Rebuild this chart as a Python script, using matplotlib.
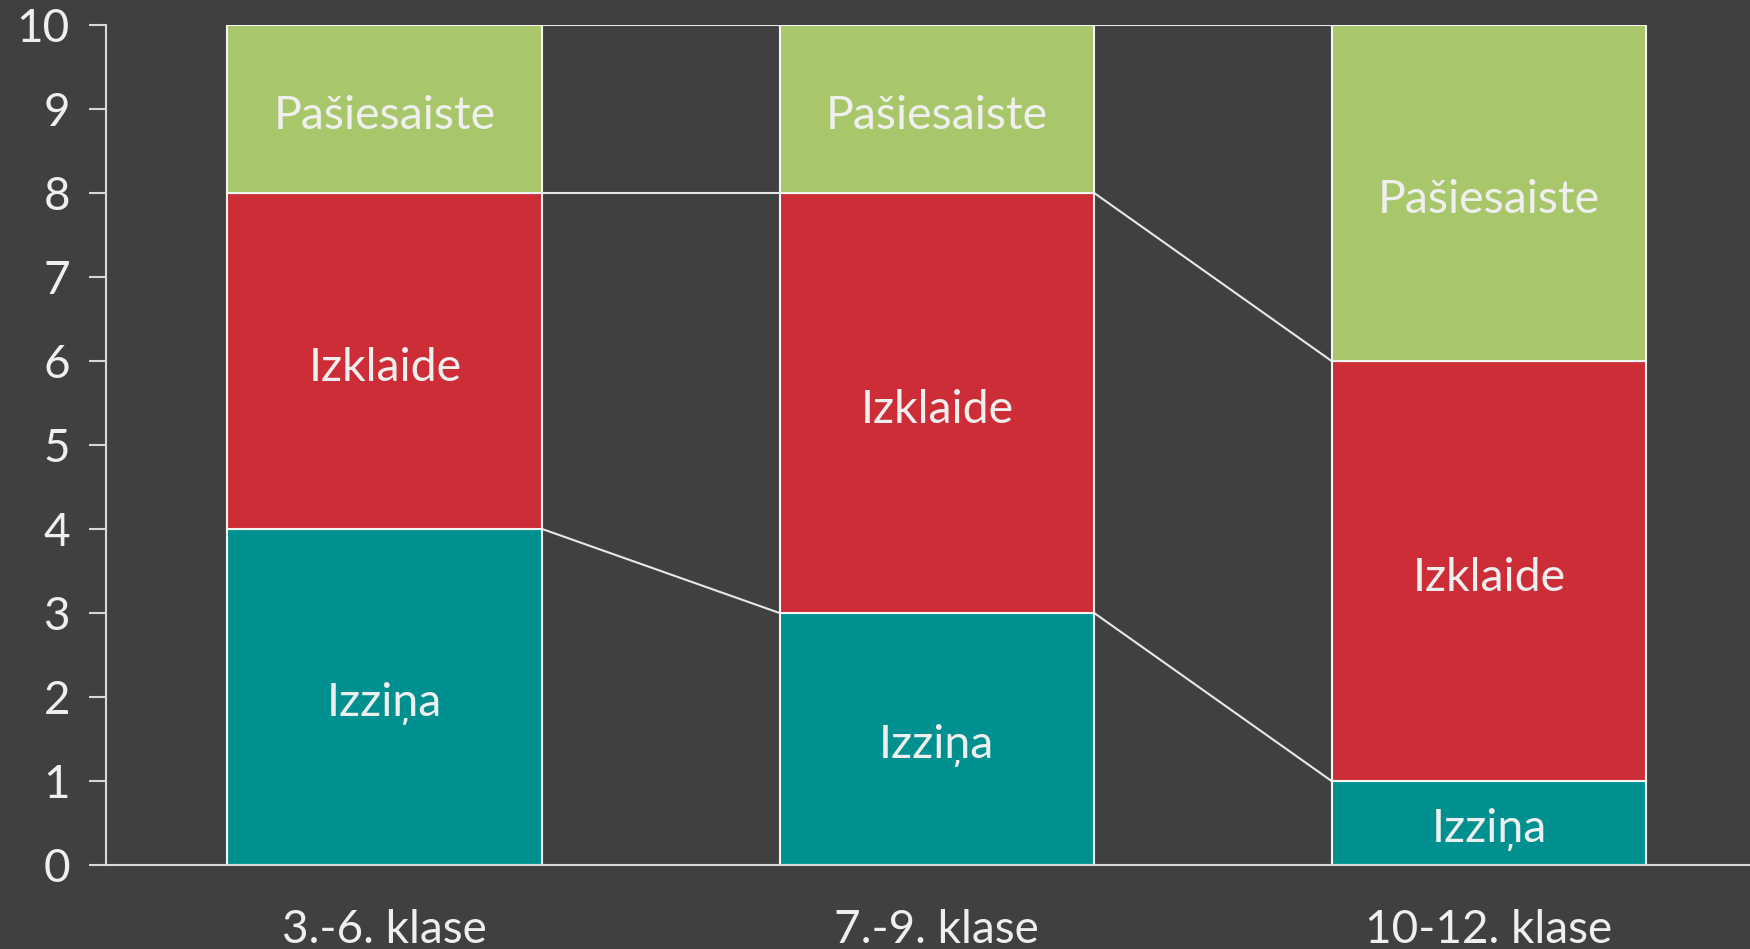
import numpy as np
import matplotlib
matplotlib.use('Agg')
from matplotlib import pyplot as plt

plt.rcParams['font.family'] = ['Lato', 'DejaVu Sans']

groups = ['3.-6. klase', '7.-9. klase', '10-12. klase']
series = ['Izziņa', 'Izklaide', 'Pašiesaiste']
izzina = [4, 3, 1]
izklaide = [4, 5, 5]
pasiesaiste = [2, 2, 4]
colors = ['#00908f', '#cd2d37', '#a8c76a']

bg = '#404040'
fg = '#efefef'

fig = plt.figure(figsize=(17.5, 9.49), dpi=100, facecolor=bg)
ax = fig.add_axes([0.0606, 0.0885, 0.9394, 0.8852], facecolor=bg)

x = np.arange(len(groups))
width = 0.57
bottom = np.zeros(len(groups))
tops = []
for name, vals, col in zip(series, [izzina, izklaide, pasiesaiste], colors):
    vals = np.array(vals, dtype=float)
    ax.bar(x, vals, width, bottom=bottom, color=col, edgecolor='#f4f4f4', linewidth=1.5, zorder=2)
    for xi, b, v in zip(x, bottom, vals):
        ax.text(xi, b + v / 2 - 0.08, name, ha='center', va='center', color=fg, fontsize=33.5, zorder=3)
    bottom = bottom + vals
    tops.append(bottom.copy())

# connector lines between stacked segments
for t in tops:
    for i in range(len(groups) - 1):
        ax.plot([x[i] + width / 2, x[i + 1] - width / 2], [t[i], t[i + 1]],
                color='#e8e8e8', linewidth=1.5, zorder=1)

ax.set_xlim(-0.505, 2.473)
ax.set_ylim(0, 10)
ax.set_yticks(range(0, 11))
ax.set_xticks(x)
ax.set_xticklabels(groups)
ax.tick_params(axis='y', colors='#d8d8d8', labelcolor=fg, labelsize=33, length=12, width=1.5, pad=14)
ax.tick_params(axis='x', length=0, labelcolor=fg, labelsize=33, pad=32)
for s in ['top', 'right']:
    ax.spines[s].set_visible(False)
ax.spines['left'].set_color('#d8d8d8')
ax.spines['bottom'].set_color('#d8d8d8')
ax.spines['left'].set_linewidth(1.5)
ax.spines['bottom'].set_linewidth(1.5)

fig.savefig('out.png', dpi=100, facecolor=bg)
